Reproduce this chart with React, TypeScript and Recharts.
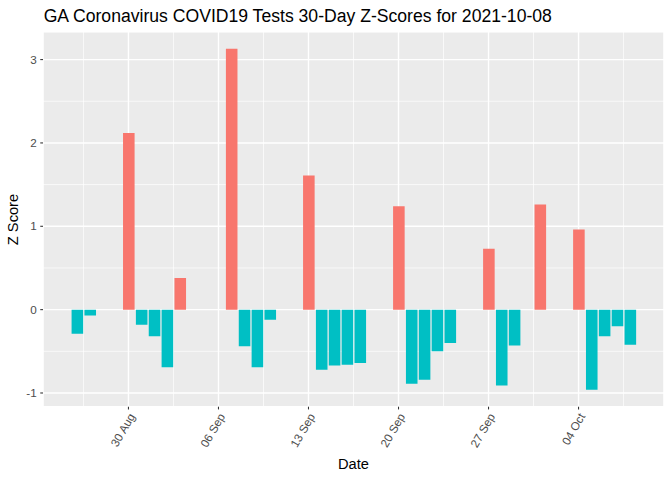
import { BarChart, Bar, Cell, XAxis, YAxis, CartesianGrid } from 'recharts';

// trading days in the 30-day window (weekends / holidays have no row)
const DATES = [
  '2021-08-26', '2021-08-27', '2021-08-30', '2021-08-31', '2021-09-01', '2021-09-02',
  '2021-09-03', '2021-09-07', '2021-09-08', '2021-09-09', '2021-09-10', '2021-09-13',
  '2021-09-14', '2021-09-15', '2021-09-16', '2021-09-17', '2021-09-20', '2021-09-21',
  '2021-09-22', '2021-09-23', '2021-09-24', '2021-09-27', '2021-09-28', '2021-09-29',
  '2021-10-01', '2021-10-04', '2021-10-05', '2021-10-06', '2021-10-07', '2021-10-08',
];
const Z_SCORES = [
  -0.29, -0.07, 2.12, -0.18, -0.32, -0.69,
  0.38, 3.13, -0.44, -0.69, -0.12, 1.61,
  -0.72, -0.67, -0.66, -0.64, 1.24, -0.89,
  -0.84, -0.5, -0.4, 0.73, -0.91, -0.43,
  1.26, 0.96, -0.96, -0.32, -0.2, -0.42,
];
const TICK_DATES = ['2021-08-30', '2021-09-06', '2021-09-13', '2021-09-20', '2021-09-27', '2021-10-04'];
const TICK_LABELS = ['30 Aug', '06 Sep', '13 Sep', '20 Sep', '27 Sep', '04 Oct'];
const Y_TICKS = [-1, 0, 1, 2, 3];
const Y_MINOR = [-0.5, 0.5, 1.5, 2.5];

const POS = '#F8766D';
const NEG = '#00BFC4';
const FONT = '"Liberation Sans", Arial, Helvetica, sans-serif';

const W = 672;
const H = 480;
const LEFT = 43;
const RIGHT = 8;
const TOP = 31.7;
const BOTTOM = 73.3;

const toDay = (s: string) => Date.UTC(+s.slice(0, 4), +s.slice(5, 7) - 1, +s.slice(8, 10)) / 86400000;

const data = DATES.map((d, i) => ({ day: toDay(d), z: Z_SCORES[i] }));
const tickDays = TICK_DATES.map(toDay);
const minorDays = [...tickDays.map((d) => d - 3.5), tickDays[tickDays.length - 1] + 3.5];

// ggplot-ish 5% expansion around bars of width 0.9
const lo = Math.min(...data.map((d) => d.day)) - 0.45;
const hi = Math.max(...data.map((d) => d.day)) + 0.45;
const xDomain = [lo - 0.05 * (hi - lo), hi + 0.05 * (hi - lo)];
const zMin = Math.min(...Z_SCORES);
const zMax = Math.max(...Z_SCORES);
const yDomain = [zMin - 0.05 * (zMax - zMin), zMax + 0.05 * (zMax - zMin)];

const barPx = (0.9 * (W - LEFT - RIGHT)) / (xDomain[1] - xDomain[0]);

function DateTick({ x, y, payload }: any) {
  const i = tickDays.findIndex((d) => Math.abs(d - payload.value) < 1e-6);
  const ax = x + 3.2;
  const ay = y + 2.6;
  return (
    <text
      x={ax}
      y={ay}
      transform={`rotate(-60, ${ax}, ${ay})`}
      textAnchor="end"
      dominantBaseline="central"
      fontSize={11.7}
      fill="#4D4D4D"
      fontFamily={FONT}
    >
      {TICK_LABELS[i]}
    </text>
  );
}

export default function App() {
  return (
    <div style={{ position: 'absolute', left: 0, top: 0, width: W, height: H, background: '#fff' }}>
      <BarChart
        width={W}
        height={H}
        data={data}
        margin={{ top: TOP, right: RIGHT, bottom: 0, left: 0 }}
      >
        <XAxis xAxisId="minor" type="number" dataKey="day" domain={xDomain} ticks={minorDays} allowDataOverflow hide />
        <YAxis yAxisId="minor" type="number" domain={yDomain} ticks={Y_MINOR} allowDataOverflow hide />
        <CartesianGrid xAxisId="minor" yAxisId="minor" stroke="#FFFFFF" strokeWidth={0.7} fill="#EBEBEB" fillOpacity={1} />
        <CartesianGrid stroke="#FFFFFF" strokeWidth={1.4} />
        <XAxis
          type="number"
          dataKey="day"
          domain={xDomain}
          ticks={tickDays}
          allowDataOverflow
          height={BOTTOM}
          axisLine={false}
          tickSize={2.74}
          tickLine={{ stroke: '#333333', strokeWidth: 1.07 }}
          tick={<DateTick />}
          interval={0}
        />
        <YAxis
          type="number"
          domain={yDomain}
          ticks={Y_TICKS}
          allowDataOverflow
          width={LEFT}
          axisLine={false}
          tickSize={2.74}
          tickMargin={3.5}
          tickLine={{ stroke: '#333333', strokeWidth: 1.07 }}
          tick={{ fontSize: 11.7, fill: '#4D4D4D', fontFamily: FONT }}
          interval={0}
        />
        <Bar dataKey="z" barSize={barPx} isAnimationActive={false}>
          {data.map((d, i) => (
            <Cell key={i} fill={d.z > 0 ? POS : NEG} />
          ))}
        </Bar>
      </BarChart>
      <svg
        width={W}
        height={H}
        style={{ position: 'absolute', left: 0, top: 0, pointerEvents: 'none' }}
        fontFamily={FONT}
      >
        <text x={43.7} y={21.7} fontSize={17.6} fill="#000">
          GA Coronavirus COVID19 Tests 30-Day Z-Scores for 2021-10-08
        </text>
        <text x={353.5} y={469.3} fontSize={14.67} fill="#000" textAnchor="middle">
          Date
        </text>
        <text transform="translate(18.3, 219.5) rotate(-90)" fontSize={14.67} fill="#000" textAnchor="middle">
          Z Score
        </text>
      </svg>
    </div>
  );
}
